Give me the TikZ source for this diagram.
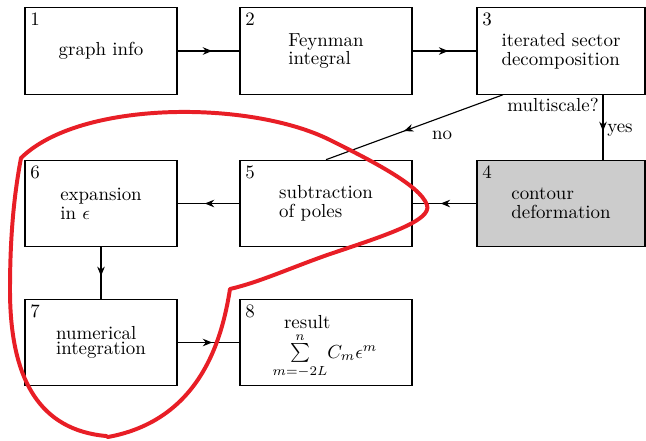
\documentclass[tikz,border=0pt]{standalone}
\usetikzlibrary{arrows.meta,decorations.markings}
\definecolor{loopred}{RGB}{232,30,38}
\def\unitpx{0.0186cm}
\begin{document}
\begin{tikzpicture}[x=\unitpx,y=-\unitpx,
  box/.style={draw,semithick,minimum height=86.5*\unitpx,inner sep=0pt},
  num/.style={anchor=north west,inner sep=3pt},
  midarrow/.style={semithick,postaction={decorate},decoration={markings,mark=at position .56 with {\arrow{Stealth[length=5pt,width=4pt]}}}}]
\useasboundingbox (0,0) rectangle (646,440);
\node[box,minimum width=152*\unitpx] (b1) at (101,51) {graph info};
\node[box,minimum width=172*\unitpx,align=left] (b2) at (326,51) {Feynman\\[-2pt] integral};
\node[box,minimum width=168*\unitpx,align=left] (b3) at (561,51) {iterated sector\\[-2pt] decomposition};
\node[box,fill=black!20,minimum width=168*\unitpx,align=left] (b4) at (561,203.5) {contour\\[-2pt] deformation};
\node[box,minimum width=172*\unitpx,align=left] (b5) at (326,203.5) {subtraction\\[-2pt] of poles};
\node[box,minimum width=152*\unitpx,align=left] (b6) at (101,203.5) {expansion\\[-2pt] in $\epsilon$};
\node[box,minimum width=152*\unitpx,align=left] (b7) at (101,342.5) {numerical\\[-4pt] integration};
\node[box,minimum width=172*\unitpx] (b8) at (326,342.5) {};
\node[align=left] (res) at (325,347) {\hspace*{6pt}result\\[1pt] $\sum\limits_{m=-2L}^{n}\!C_m\epsilon^m$};
\foreach \i in {1,...,8}\node[num] (n\i) at (b\i.north west) {\i};
\coordinate (yx) at (603,0);
\node (ms) at (553,105) {multiscale?};
\node (yes) at (620,130) {yes};
\node (no) at (442,135) {no};
\draw[midarrow] (b1.east) -- (b2.west);
\draw[midarrow] (b2.east) -- (b3.west);
\draw[midarrow] (b3.south -| yx) -- (b4.north -| yx);
\draw[midarrow] (b3.217.5) -- (b5.north);
\draw[midarrow] (b4.west) -- (b5.east);
\draw[midarrow] (b5.west) -- (b6.east);
\draw[midarrow] (b6.south) -- (b7.north);
\draw[midarrow] (b7.east) -- (b8.west);
\draw[loopred,line width=2.1pt,line join=round]
  (21,158) .. controls (80,100) and (250,100) .. (330,140)
  .. controls (370,160) and (420,185) .. (427,205)
  .. controls (432,220) and (390,234) .. (330,254)
  .. controls (290,268) and (260,282) .. (230,289)
  .. controls (222,340) and (200,420) .. (108,437)
  -- (106,436)
  .. controls (40,430) and (10,380) .. (10,290)
  .. controls (10,230) and (15,190) .. (21,158) -- cycle;
\end{tikzpicture}
\end{document}
